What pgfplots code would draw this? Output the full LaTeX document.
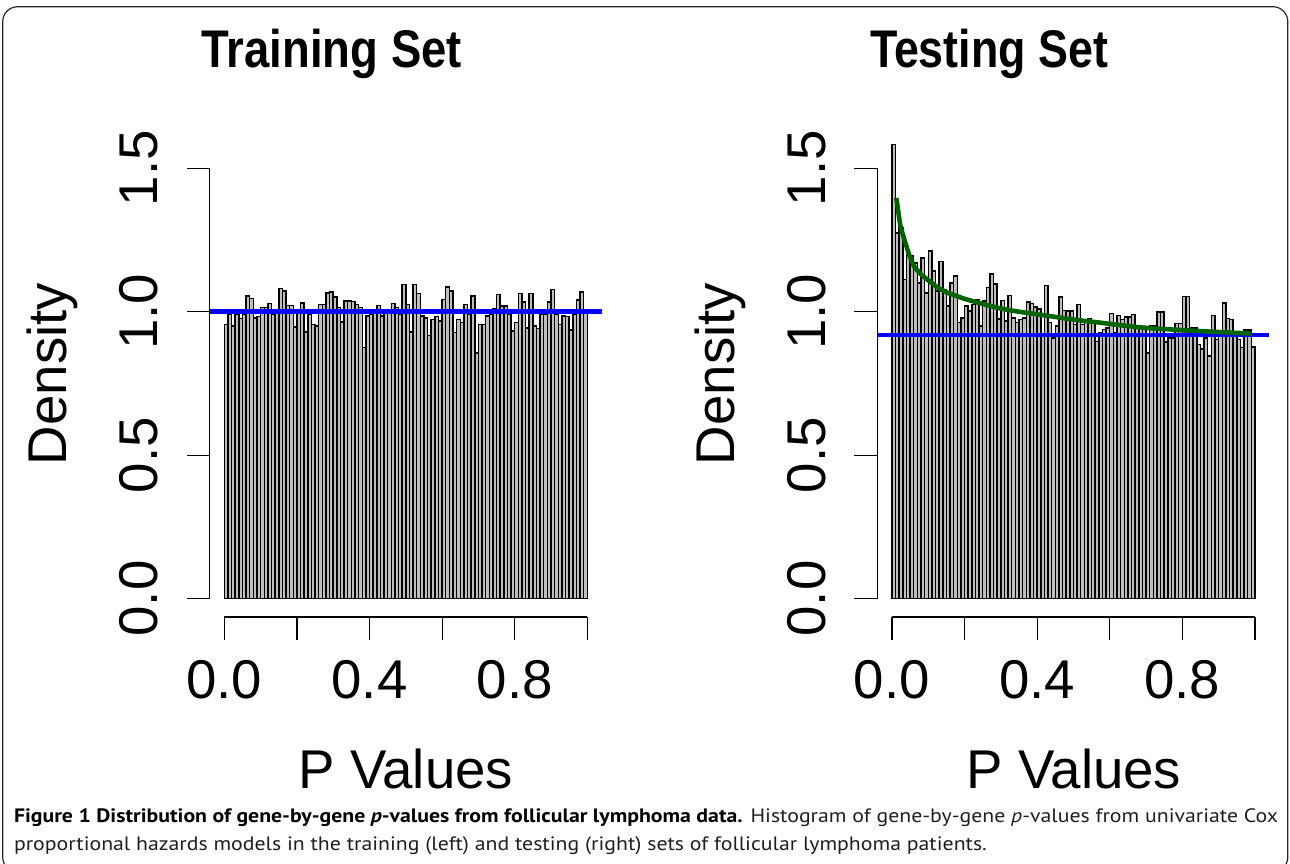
\documentclass[border=0pt]{standalone}
\usepackage{pgfplots}
\pgfplotsset{compat=1.18}
\usepackage{pgfplotstable}
\usepackage{graphicx}
\usepackage{fontspec}
\setmainfont{Liberation Sans}
\newfontfamily\capfont{PT Sans}
\definecolor{histfill}{RGB}{190,190,190}
\definecolor{dgreen}{RGB}{0,100,0}
\definecolor{framec}{RGB}{40,40,40}
\definecolor{captext}{RGB}{30,30,30}

\pgfplotstableread{
x y
0.00 0.956
0.01 0.993
0.02 0.950
0.03 0.993
0.04 0.977
0.05 0.993
0.06 1.055
0.07 1.046
0.08 0.979
0.09 0.983
0.10 1.014
0.11 1.014
0.12 1.029
0.13 0.991
0.14 1.002
0.15 1.081
0.16 1.072
0.17 1.022
0.18 1.022
0.19 0.947
0.20 1.008
0.21 1.031
0.22 0.929
0.23 0.991
0.24 0.956
0.25 0.950
0.26 1.026
0.27 1.026
0.28 1.066
0.29 1.069
0.30 1.052
0.31 1.014
0.32 0.964
0.33 1.037
0.34 1.037
0.35 1.035
0.36 1.026
0.37 1.014
0.38 0.875
0.39 0.985
0.40 0.991
0.41 0.999
0.42 1.022
0.43 0.985
0.44 1.002
0.45 0.997
0.46 1.028
0.47 1.014
0.48 0.991
0.49 1.095
0.50 1.026
0.51 0.929
0.52 1.095
0.53 1.063
0.54 0.985
0.55 0.979
0.56 0.918
0.57 0.973
0.58 0.983
0.59 0.967
0.60 1.043
0.61 1.087
0.62 1.072
0.63 0.927
0.64 0.973
0.65 0.962
0.66 1.026
0.67 0.991
0.68 1.055
0.69 0.857
0.70 0.956
0.71 0.956
0.72 0.985
0.73 0.991
0.74 1.010
0.75 1.060
0.76 1.020
0.77 1.020
0.78 0.991
0.79 0.933
0.80 0.962
0.81 1.064
0.82 1.034
0.83 0.944
0.84 1.064
0.85 0.950
0.86 0.941
0.87 0.991
0.88 0.991
0.89 1.034
0.90 1.078
0.91 0.991
0.92 0.956
0.93 0.985
0.94 0.983
0.95 0.936
0.96 0.991
0.97 1.041
0.98 1.069
0.99 0.997
1.00 0.997
}\trainT

\pgfplotstableread{
x y
0.00 1.583
0.01 1.275
0.02 1.293
0.03 1.113
0.04 1.200
0.05 1.194
0.06 1.170
0.07 1.100
0.08 1.188
0.09 1.066
0.10 1.212
0.11 1.142
0.12 1.072
0.13 1.176
0.14 1.078
0.15 1.020
0.16 1.100
0.17 1.124
0.18 0.962
0.19 0.979
0.20 1.020
0.21 1.002
0.22 1.026
0.23 1.043
0.24 0.950
0.25 1.037
0.26 1.084
0.27 1.131
0.28 1.096
0.29 0.974
0.30 1.040
0.31 0.967
0.32 1.057
0.33 0.979
0.34 0.962
0.35 0.973
0.36 0.979
0.37 1.034
0.38 1.029
0.39 1.017
0.40 1.010
0.41 0.913
0.42 1.092
0.43 0.962
0.44 0.909
0.45 0.950
0.46 1.052
0.47 1.004
0.48 1.002
0.49 1.002
0.50 0.956
0.51 1.025
0.52 0.956
0.53 0.973
0.54 0.976
0.55 0.960
0.56 0.897
0.57 0.927
0.58 0.938
0.59 0.944
0.60 0.994
0.61 0.927
0.62 0.987
0.63 0.973
0.64 0.982
0.65 0.982
0.66 0.990
0.67 0.950
0.68 0.941
0.69 0.938
0.70 0.857
0.71 0.950
0.72 0.950
0.73 0.999
0.74 0.999
0.75 0.894
0.76 0.909
0.77 0.909
0.78 0.959
0.79 0.959
0.80 1.054
0.81 1.054
0.82 0.944
0.83 0.944
0.84 0.886
0.85 0.871
0.86 0.909
0.87 0.845
0.88 0.987
0.89 0.904
0.90 0.927
0.91 1.031
0.92 0.976
0.93 0.973
0.94 0.915
0.95 0.904
0.96 0.875
0.97 0.936
0.98 0.936
0.99 0.878
1.00 0.878
}\testT

\pgfplotsset{histax/.style={
  scale only axis, width=196bp, height=247.8bp, anchor=south west,
  xmin=-0.04, xmax=1.04, ymin=-0.064, ymax=1.664,
  axis line style={draw=none},
  xtick={0,0.2,0.4,0.6,0.8,1}, ytick={0,0.5,1,1.5},
  xticklabels={}, yticklabels={},
  tick pos=left, tick align=outside,
  major tick length=11.5bp,
  every tick/.style={black, line width=0.6bp},
  clip=false,
}}

\newcommand\lab{\fontsize{27.3bp}{32bp}\selectfont}
\newcommand\ttl{\fontsize{26.5bp}{32bp}\selectfont\bfseries}
\newcommand\capsz{\capfont\fontsize{9.7bp}{12bp}\selectfont}
\newsavebox\boxA
\newsavebox\boxB
\newsavebox\capA
\newsavebox\capB
\newlength\wA
\newlength\wB
\newlength\wC

\begin{document}%
\sbox\boxA{\ttl Training Set}%
\sbox\boxB{\ttl Testing Set}%
\sbox\capA{\capsz\textbf{Figure 1 Distribution of gene-by-gene \textit{p}-values from follicular lymphoma data.} {\color{captext}Histogram of gene-by-gene \textit{p}-values from univariate Cox}}%
\sbox\capB{\capsz\color{captext}proportional hazards models in the training (left) and testing (right) sets of follicular lymphoma patients.}%
\setlength\wA{\wd\boxA}%
\setlength\wB{\wd\boxB}%
\setlength\wC{\wd\capA}%
\pgfmathsetmacro\scA{130.49/\wA}%
\pgfmathsetmacro\scB{119.45/\wB}%
\pgfmathsetmacro\scC{634.37/\wC}%
\begin{tikzpicture}
\begin{scope}[x=0.5bp,y=-0.5bp]
\useasboundingbox (0,0) rectangle (1290,863);
\draw[framec, line width=0.6bp, rounded corners=7.5bp] (2.7,6.7) rectangle (1287.8,872);
\end{scope}

% Left: training set
\begin{axis}[histax, at={(104.9bp,-308.45bp)}]
\addplot[ybar interval, fill=histfill, draw=black, line width=0.75bp] table[x=x,y=y]{\trainT};
\addplot[blue, line width=2.3bp] coordinates {(-0.04,1) (1.04,1)};
\draw[black, line width=0.6bp] (axis cs:0,-0.064) -- (axis cs:1,-0.064);
\draw[black, line width=0.6bp] (axis cs:-0.04,0) -- (axis cs:-0.04,1.5);
\end{axis}

% Right: testing set
\begin{axis}[histax, at={(438.7bp,-308.45bp)}]
\addplot[ybar interval, fill=histfill, draw=black, line width=0.75bp] table[x=x,y=y]{\testT};
\addplot[blue, line width=2.3bp] coordinates {(-0.04,0.919) (1.04,0.919)};
\addplot[dgreen, line width=2.3bp] coordinates {
(0.012,1.397) (0.023,1.300) (0.034,1.252) (0.047,1.200) (0.061,1.157)
(0.080,1.130) (0.100,1.110) (0.125,1.085) (0.153,1.066) (0.200,1.045)
(0.245,1.029) (0.300,1.011) (0.350,1.000) (0.391,0.993) (0.440,0.984)
(0.482,0.976) (0.530,0.968) (0.574,0.962) (0.629,0.953) (0.680,0.946)
(0.720,0.942) (0.812,0.935) (0.904,0.929) (0.990,0.924)};
\draw[black, line width=0.6bp] (axis cs:0,-0.064) -- (axis cs:1,-0.064);
\draw[black, line width=0.6bp] (axis cs:-0.04,0) -- (axis cs:-0.04,1.5);
\end{axis}

\begin{scope}[x=0.5bp,y=-0.5bp, every node/.style={inner sep=0pt, outer sep=0pt}]
% titles
\node[anchor=base] at (331.7,67) {\scalebox{\scA}[1]{\usebox\boxA}};
\node[anchor=base] at (989,67) {\scalebox{\scB}[1]{\usebox\boxB}};
% y labels
\node[rotate=90, anchor=base] at (66.7,374) {\lab Density};
\node[rotate=90, anchor=base] at (734.5,374) {\lab Density};
% y tick labels
\foreach \yy/\tt in {598.5/0.0, 455.1/0.5, 311.7/1.0, 168.3/1.5}{
  \node[rotate=90, anchor=base] at (157,\yy) {\lab\tt};
  \node[rotate=90, anchor=base] at (825,\yy) {\lab\tt};
}
% x tick labels
\foreach \xx/\tt in {224.3/0.0, 369.5/0.4, 514.7/0.8, 891.9/0.0, 1037.1/0.4, 1182.3/0.8}{
  \node[anchor=base] at (\xx,698) {\lab\tt};
}
% x labels
\node[anchor=base] at (405.8,788) {\lab P Values};
\node[anchor=base] at (1073.9,788) {\lab P Values};
% caption
\node[anchor=base west] at (14,822) {\scalebox{\scC}[1]{\usebox\capA}};
\node[anchor=base west] at (14,850) {\scalebox{\scC}[1]{\usebox\capB}};
\end{scope}
\end{tikzpicture}
\end{document}
